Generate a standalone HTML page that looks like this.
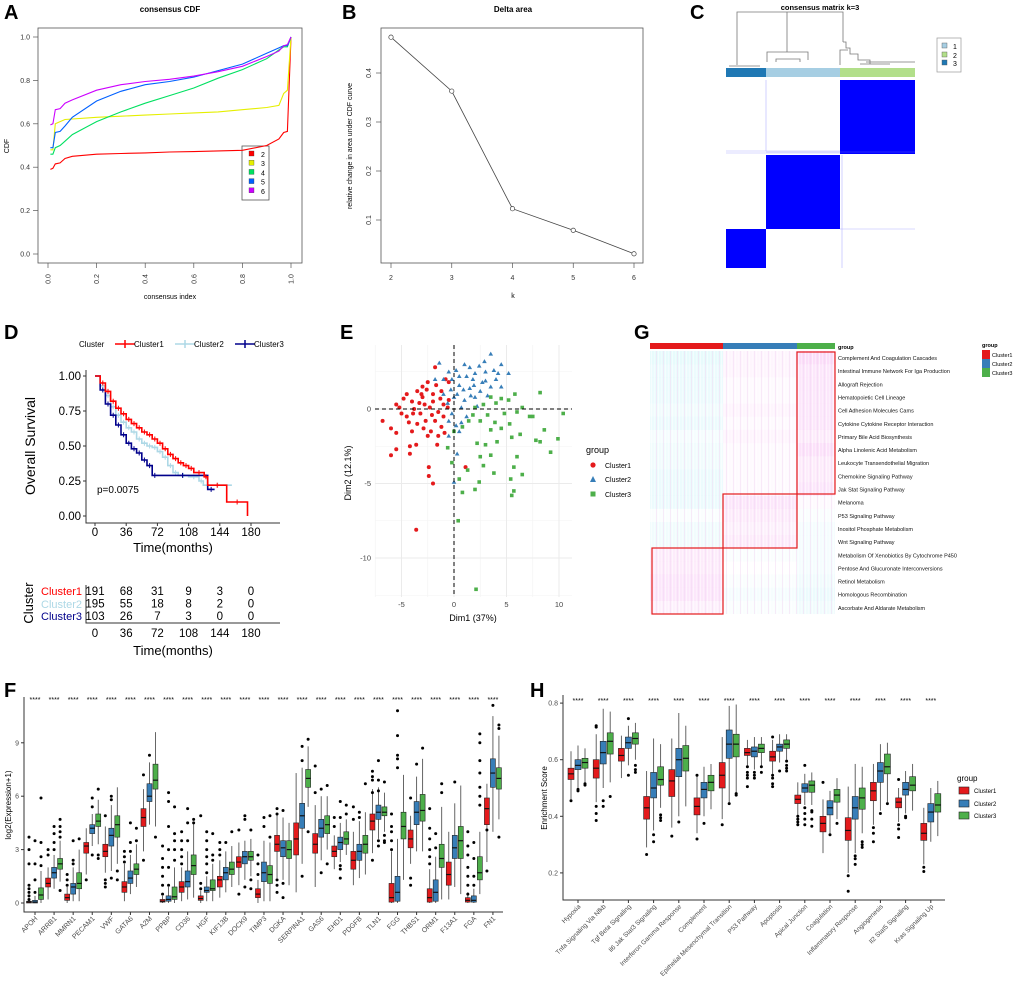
<!DOCTYPE html>
<html><head><meta charset="utf-8">
<style>
html,body{margin:0;padding:0;background:#fff;}
svg{display:block;font-family:"Liberation Sans",Arial,sans-serif;}
</style></head>
<body>
<svg id="fig" width="1020" height="981" viewBox="0 0 1020 981" xmlns="http://www.w3.org/2000/svg">
<defs>
<pattern id="stripes" width="7" height="13" patternUnits="userSpaceOnUse">
<rect x="0" y="0" width="1" height="13" fill="#fff" opacity="0.5"/>
<rect x="3" y="0" width="1" height="13" fill="#fff" opacity="0.35"/>
<rect x="5" y="0" width="1" height="13" fill="#f0d0f0" opacity="0.4"/>
</pattern>
</defs>
<g font-weight="bold" font-size="20" fill="#000">
<text x="4" y="19">A</text>
<text x="342" y="19">B</text>
<text x="690" y="19">C</text>
<text x="4" y="339">D</text>
<text x="340" y="339">E</text>
<text x="634" y="339">G</text>
<text x="4" y="697">F</text>
<text x="530" y="697">H</text>
</g>

<g id="pa">
<text x="170" y="12" font-size="8" font-weight="bold" text-anchor="middle">consensus CDF</text>
<rect x="38" y="28" width="264" height="235" fill="none" stroke="#555" stroke-width="0.8"/>
<text x="0" y="0" font-size="7" transform="translate(9,146) rotate(-90)" text-anchor="middle">CDF</text>
<text x="170" y="299" font-size="7" text-anchor="middle">consensus index</text>
<g>
<rect x="242" y="146" width="27" height="54" fill="#fff" stroke="#555" stroke-width="0.8"/>
</g>
</g>

<g id="pb">
<text x="513" y="12" font-size="8" font-weight="bold" text-anchor="middle">Delta area</text>
<rect x="381" y="28" width="262" height="235" fill="none" stroke="#555" stroke-width="0.8"/>
<text x="0" y="0" font-size="7" transform="translate(352,146) rotate(-90)" text-anchor="middle">relative change in area under CDF curve</text>
<text x="513" y="298" font-size="7" text-anchor="middle">k</text>
</g>

<g id="pc">
<text x="820" y="10" font-size="7.5" font-weight="bold" text-anchor="middle">consensus matrix k=3</text>
<path d="M737 65 V12 H843 V42 M787 12 V52 M767 62 V52 H808 V60 M776 62 V59 H800 V62 M843 42 H846 V48 H850 V54 H858 V60 H870 V64 M840 65 V50 H848 M860 64 H890 M866 62 H915 M729 66 H760" fill="none" stroke="#777" stroke-width="0.8"/>
<rect x="726" y="68" width="40" height="9" fill="#1f78b4"/>
<rect x="766" y="68" width="74" height="9" fill="#a6cee3"/>
<rect x="840" y="68" width="75" height="9" fill="#b2df8a"/>
<rect x="840" y="80" width="75" height="74" fill="#0000ff"/>
<rect x="766" y="155" width="74" height="74" fill="#0000ff"/>
<rect x="726" y="229" width="40" height="39" fill="#0000ff"/>
<path d="M726 151 H840 M726 153 H840 M766 80 V151 M842 155 V268 M840 229 H915 M766 152 H915" stroke="#8080ff" stroke-width="0.6" opacity="0.6" fill="none"/>
<g>
<rect x="937" y="38" width="24" height="34" fill="#fff" stroke="#999" stroke-width="0.7"/>
<rect x="942" y="43" width="5" height="5" fill="#a6cee3" stroke="#555" stroke-width="0.4"/>
<text x="953" y="49" font-size="7">1</text>
<rect x="942" y="52" width="5" height="5" fill="#b2df8a" stroke="#555" stroke-width="0.4"/>
<text x="953" y="58" font-size="7">2</text>
<rect x="942" y="60" width="5" height="5" fill="#1f78b4" stroke="#555" stroke-width="0.4"/>
<text x="953" y="66" font-size="7">3</text>
</g>
</g>

<g id="pd">
<g font-size="8">
<text x="79" y="347">Cluster</text>
<path d="M115 344 H135 M125 340 V348" stroke="#ff0000" stroke-width="1.5"/>
<text x="134" y="347">Cluster1</text>
<path d="M175 344 H195 M185 340 V348" stroke="#add8e6" stroke-width="1.5"/>
<text x="194" y="347">Cluster2</text>
<path d="M235 344 H255 M245 340 V348" stroke="#00008b" stroke-width="1.5"/>
<text x="254" y="347">Cluster3</text>
</g>
<path d="M86 370 V523 H280" fill="none" stroke="#333" stroke-width="1"/>
<text x="0" y="0" font-size="14" transform="translate(35,446) rotate(-90)" text-anchor="middle">Overall Survival</text>
<text x="173" y="552" font-size="13" text-anchor="middle">Time(months)</text>
<text x="97" y="493" font-size="10">p=0.0075</text>
<g>
<text x="0" y="0" font-size="13" transform="translate(33,603) rotate(-90)" text-anchor="middle">Cluster</text>
<text x="82" y="595" font-size="11" fill="#ff0000" text-anchor="end">Cluster1</text>
<text x="82" y="608" font-size="11" fill="#add8e6" text-anchor="end">Cluster2</text>
<text x="82" y="620" font-size="11" fill="#00008b" text-anchor="end">Cluster3</text>
<path d="M86 585 V623 H280" fill="none" stroke="#333" stroke-width="1"/>
<text x="173" y="655" font-size="13" text-anchor="middle">Time(months)</text>
</g>
</g>

<g id="pe">
<text x="0" y="0" font-size="9" transform="translate(351,473) rotate(-90)" text-anchor="middle">Dim2 (12.1%)</text>
<text x="473" y="621" font-size="9" text-anchor="middle">Dim1 (37%)</text>
<g>
<text x="586" y="453" font-size="9">group</text>
<circle cx="593" cy="465" r="2.6" fill="#e41a1c"/>
<text x="605" y="468" font-size="7">Cluster1</text>
<path d="M590 482 L593 476 L596 482 Z" fill="#377eb8"/>
<text x="605" y="482" font-size="7">Cluster2</text>
<rect x="590.5" y="491.5" width="5" height="5" fill="#4daf4a"/>
<text x="605" y="497" font-size="7">Cluster3</text>
</g>
</g>

<g id="pg">
<rect x="650" y="343" width="73" height="6" fill="#e41a1c"/>
<rect x="723" y="343" width="74" height="6" fill="#377eb8"/>
<rect x="797" y="343" width="38" height="6" fill="#4daf4a"/>
<text x="838" y="349" font-size="5.5" font-weight="bold">group</text>
<g>
<text x="982" y="347" font-size="5.5" font-weight="bold">group</text>
<rect x="982" y="350" width="8" height="9" fill="#e41a1c"/>
<text x="992" y="357" font-size="5.5">Cluster1</text>
<rect x="982" y="359" width="8" height="9" fill="#377eb8"/>
<text x="992" y="366" font-size="5.5">Cluster2</text>
<rect x="982" y="368" width="8" height="9" fill="#4daf4a"/>
<text x="992" y="375" font-size="5.5">Cluster3</text>
</g>
</g>

<g id="pf">
<path d="M24 697 V912 H503" fill="none" stroke="#333" stroke-width="1"/>
<text x="0" y="0" font-size="8" transform="translate(11,805) rotate(-90)" text-anchor="middle">log2(Expression+1)</text>
</g>

<g id="ph">
<path d="M563 695 V900 H945" fill="none" stroke="#333" stroke-width="1"/>
<text x="0" y="0" font-size="8" transform="translate(547,798) rotate(-90)" text-anchor="middle">Enrichment Score</text>
<g>
<text x="957" y="781" font-size="8">group</text>
<rect x="959" y="787" width="10" height="7" fill="#e41a1c" stroke="#222" stroke-width="0.6"/>
<text x="974" y="793" font-size="6">Cluster1</text>
<rect x="959" y="800" width="10" height="7" fill="#377eb8" stroke="#222" stroke-width="0.6"/>
<text x="974" y="806" font-size="6">Cluster2</text>
<rect x="959" y="812" width="10" height="7" fill="#4daf4a" stroke="#222" stroke-width="0.6"/>
<text x="974" y="818" font-size="6">Cluster3</text>
</g>
</g>
</svg>

<script>
const cdfX = [0.01,0.02,0.03,0.05,0.07,0.1,0.2,0.3,0.4,0.5,0.6,0.7,0.8,0.9,0.95,0.97,0.985,1.0];
const cdfK2 = [0.39,0.395,0.415,0.42,0.44,0.45,0.46,0.463,0.466,0.47,0.472,0.475,0.478,0.50,0.53,0.56,0.565,1.0];
const cdfK3 = [0.48,0.48,0.6,0.61,0.62,0.622,0.63,0.635,0.64,0.645,0.65,0.655,0.665,0.675,0.685,0.74,0.755,1.0];
const cdfK4 = [0.46,0.46,0.49,0.5,0.52,0.55,0.61,0.655,0.695,0.73,0.765,0.81,0.85,0.9,0.94,0.955,0.955,1.0];
const cdfK5 = [0.49,0.49,0.56,0.565,0.59,0.63,0.705,0.75,0.78,0.795,0.815,0.845,0.875,0.925,0.95,0.96,0.96,1.0];
const cdfK6 = [0.595,0.6,0.665,0.67,0.695,0.71,0.755,0.78,0.795,0.805,0.82,0.84,0.865,0.91,0.935,0.96,0.965,1.0];
const cdfColors = ["#ff0000","#e5ef00","#00e060","#0060ff","#cc00ff"];
const cdfLabels = ["2","3","4","5","6"];
const cdfTicks = [0,0.2,0.4,0.6,0.8,1.0];

const deltaK = [2,3,4,5,6];
const deltaVal = [0.473,0.363,0.123,0.079,0.031];
const deltaYTicks = [0.1,0.2,0.3,0.4];

const kmT1 = [0,6,12,18,24,30,36,42,48,54,60,66,72,78,84,90,96,102,108,114,126,130,152,176];
const kmS1 = [1,0.95,0.89,0.82,0.77,0.73,0.69,0.66,0.63,0.6,0.58,0.55,0.52,0.48,0.44,0.41,0.38,0.36,0.34,0.31,0.28,0.22,0.1,0];
const kmT2 = [0,6,12,18,24,30,36,42,48,54,60,66,72,78,84,90,96,108,120,125,158];
const kmS2 = [1,0.93,0.86,0.78,0.72,0.67,0.63,0.6,0.55,0.52,0.5,0.49,0.46,0.42,0.36,0.31,0.29,0.28,0.25,0.22,0.22];
const kmT3 = [0,6,12,18,24,30,36,42,48,54,60,66,72,130,138];
const kmS3 = [1,0.9,0.8,0.72,0.65,0.58,0.52,0.48,0.45,0.4,0.36,0.29,0.29,0.19,0.19];
const kmXTicks = [0,36,72,108,144,180];
const kmYTicks = [0,0.25,0.5,0.75,1.0];
const riskC1 = [191,68,31,9,3,0];
const riskC2 = [195,55,18,8,2,0];
const riskC3 = [103,26,7,3,0,0];

const pcaC1 = [[-1.8,2.8],[-2.5,1.8],[-3,1.5],[-4.5,1],[-5.5,0.3],[-6.8,-0.8],[-6,-1.3],[-5.5,-1.6],[-5.5,-2.7],[-6,-3.1],[-4.2,-2.5],[-3.6,-2.4],[-4.2,-3],[-2.4,-3.9],[-2.4,-4.5],[-2,-5],[1.1,-3.9],[-3.6,-8.1],[-1.5,-1.8],[-1.6,-2.4],[-2.5,-1.8],[-3.5,-1],[-4.5,-0.5],[-4,0.5],[-3,0.8],[-2,0.5],[-1,0.3],[-0.5,0.6],[-1.2,1.2],[-2,1],[-3.2,-0.3],[-2.7,-0.8],[-1.8,-0.8],[-1,-0.5],[-0.5,1.8],[-5,-0.3],[-3.8,0],[-2.3,0.1],[-1.5,-0.2],[-4.8,0.7],[-3.5,1.2],[-2.8,0.3],[-0.8,2.0],[-1.2,-1.2],[-4,-1.5],[-3.3,0.4],[-2.1,-0.4],[-1.3,0.7],[-4.3,-0.9],[-2.6,1.3],[-3.9,-0.3],[-1.7,1.6],[-0.9,-1.6],[-2.9,-1.3],[-5.2,0.1],[-2.2,-1.5],[-3.1,1.0],[-0.6,0.1]];
const pcaC2 = [[-1.4,3.1],[-1.8,2],[-1,2],[-0.5,2.5],[0.2,2.6],[1,3],[1.5,2.8],[2,2.4],[2.9,3.2],[3.5,3.7],[4.5,3],[5.2,2.4],[3,2.5],[4,2],[4.5,1.5],[3.5,1.5],[2.5,1.2],[1.5,1.4],[0.5,1.6],[-0.3,1.3],[0,0.8],[1,0.6],[2,0.8],[0.7,0.1],[-0.2,-0.3],[-0.5,-0.8],[0.2,-1.1],[0.7,-0.9],[0.5,-1.5],[-0.5,-1.8],[1.2,-0.5],[2.2,0.2],[3.2,0.9],[0.3,-3],[0,-4.9],[-1,1],[1.8,2],[0.5,2.2],[3.8,2.6],[2.7,1.8],[1.2,2.2],[0.3,1.0],[-0.6,0.4],[1.6,0.9],[2.4,2.9],[0.9,1.3],[3.0,1.9],[4.2,2.4],[-0.2,2.0],[1.9,1.6]];
const pcaC3 = [[8.2,1.1],[5.8,1],[5.2,0.6],[4.5,0.7],[4,0.4],[3.5,0.8],[2.8,0.3],[2,0.1],[6.5,0.1],[7.2,-0.5],[7.5,-0.5],[10.4,-0.3],[6,-0.2],[5.3,-1],[4.5,-1.3],[3.5,-1.4],[2.5,-0.8],[1.4,-0.8],[0.8,-1.2],[0,-1.5],[8.6,-1.4],[6.3,-1.7],[5.5,-1.9],[4.1,-2.2],[3,-2.4],[2.2,-2.3],[-0.6,-2.6],[7.8,-2.1],[8.2,-2.2],[9.9,-2],[9.2,-2.9],[6,-3.2],[5.7,-3.9],[3.5,-3.1],[2.5,-3.2],[2.8,-3.8],[-0.2,-3.6],[1.3,-4.1],[3.8,-4.3],[6.5,-4.4],[5.4,-4.7],[2.4,-4.9],[0.5,-4.7],[2,-5.4],[0.8,-5.6],[5.5,-5.8],[5.7,-5.5],[0.4,-7.5],[2.1,-12.1],[3.2,-0.4],[4.8,-0.3],[3.9,-0.9],[1.8,-0.4]];
const pcaXTicks = [-5,0,5,10];
const pcaYTicks = [0,-5,-10];

const gsetNames = ["Complement And Coagulation Cascades","Intestinal Immune Network For Iga Production","Allograft Rejection","Hematopoietic Cell Lineage","Cell Adhesion Molecules Cams","Cytokine Cytokine Receptor Interaction","Primary Bile Acid Biosynthesis","Alpha Linolenic Acid Metabolism","Leukocyte Transendothelial Migration","Chemokine Signaling Pathway","Jak Stat Signaling Pathway","Melanoma","P53 Signaling Pathway","Inositol Phosphate Metabolism","Wnt Signaling Pathway","Metabolism Of Xenobiotics By Cytochrome P450","Pentose And Glucuronate Interconversions","Retinol Metabolism","Homologous Recombination","Ascorbate And Aldarate Metabolism"];
const gsetC1 = [-0.5,-0.4,-0.4,-0.4,-0.3,-0.4,-0.2,-0.3,-0.3,-0.4,-0.4,-0.4,-0.1,-0.3,-0.3,0.4,0.4,0.5,0.5,0.3];
const gsetC2 = [0.2,0.2,0.1,0.1,0.2,0.1,0.2,0.1,0.1,0.1,0.1,0.5,0.4,0.3,0.4,-0.1,0.0,-0.1,-0.2,-0.1];
const gsetC3 = [0.7,0.5,0.5,0.5,0.5,0.5,0.4,0.6,0.4,0.4,0.5,0.1,-0.1,-0.2,-0.2,-0.2,-0.2,-0.3,-0.4,-0.3];

const fGenes = ["APOH","ARRB1","MMRN1","PECAM1","VWF","GATA6","A2M","PPBP","CD36","HGF","KIF13B","DOCK9","TIMP3","DGKA","SERPINA1","GAS6","EHD1","PDGFB","TLN1","FGG","THBS1","ORM1","F13A1","FGA","FN1"];
const fC1 = [[0,0.05,0.1,0,0.3],[0.9,1.1,1.4,0.2,2.0],[0.15,0.3,0.5,0,0.9],[2.8,3.2,3.4,1.6,4.2],[2.6,2.9,3.3,1.7,4.3],[0.6,0.9,1.2,0.1,2.2],[4.3,4.8,5.3,2.9,6.4],[0.05,0.1,0.2,0,0.4],[0.6,0.9,1.2,0.1,2.0],[0.15,0.25,0.4,0,0.7],[0.9,1.3,1.5,0.3,2.4],[2.0,2.3,2.6,1.0,3.4],[0.3,0.5,0.8,0,1.3],[2.9,3.3,3.8,1.4,5.0],[2.7,3.6,4.5,0.6,7.3],[2.8,3.3,3.9,0.9,5.5],[2.6,2.9,3.2,1.9,3.8],[1.9,2.4,2.9,1.0,4.0],[4.1,4.6,5.0,2.8,6.4],[0.05,0.3,1.1,0,2.9],[3.1,3.6,4.1,2.2,4.9],[0.05,0.3,0.8,0,1.9],[1.0,1.6,2.3,0.2,4.0],[0.05,0.15,0.3,0,0.6],[4.4,5.3,5.9,2.3,6.7]];
const fC2 = [[0,0.05,0.15,0,0.4],[1.4,1.7,2.0,0.8,2.7],[0.5,0.9,1.1,0.1,2.0],[3.9,4.2,4.4,3.2,5.0],[3.2,3.8,4.2,1.8,5.5],[1.1,1.4,1.8,0.5,2.7],[5.7,6.0,6.7,4.4,7.9],[0.1,0.2,0.4,0,0.9],[0.9,1.2,1.8,0.2,2.9],[0.6,0.7,0.9,0.1,1.5],[1.3,1.7,2.0,0.6,2.9],[2.2,2.6,2.9,1.3,3.5],[1.2,1.7,2.3,0.1,3.5],[2.6,3.1,3.5,1.3,4.8],[4.2,4.9,5.6,2.2,7.6],[3.7,4.2,4.7,2.4,6.0],[3.0,3.4,3.7,2.3,4.5],[2.4,2.9,3.3,1.4,4.6],[4.7,5.1,5.5,3.6,6.5],[0.1,0.6,1.5,0,3.6],[4.4,5.1,5.7,2.9,7.1],[0.1,0.6,1.3,0,2.6],[2.5,3.1,3.8,0.9,5.6],[0.05,0.15,0.4,0,0.8],[6.5,7.3,8.1,4.0,10.5]];
const fC3 = [[0.2,0.45,0.85,0,1.8],[1.9,2.2,2.5,1.2,3.5],[0.8,1.1,1.7,0.1,3.0],[4.3,4.6,5.0,3.3,5.8],[3.7,4.4,4.9,2.2,6.5],[1.6,1.9,2.2,0.9,3.3],[6.4,6.9,7.8,4.3,9.6],[0.2,0.35,0.9,0,2.0],[1.6,2.1,2.7,0.3,4.5],[0.7,0.8,1.3,0.1,2.2],[1.6,1.9,2.3,0.9,3.2],[2.4,2.6,2.9,1.5,3.6],[1.1,1.6,2.1,0.1,3.4],[2.5,3.0,3.5,1.0,4.5],[6.5,7.0,7.5,5.4,8.8],[3.9,4.4,4.9,3.0,6.0],[3.3,3.6,4.0,2.7,4.7],[2.8,3.3,3.8,1.6,5.1],[4.9,5.1,5.4,4.0,6.2],[3.6,4.3,5.1,1.3,7.2],[4.6,5.2,6.1,2.9,8.1],[2.0,2.5,3.3,0.2,5.4],[2.5,3.5,4.3,0.5,6.6],[1.3,1.7,2.6,0.5,4.0],[6.4,7.0,7.6,4.7,9.4]];
// outliers per gene, per cluster
const fOut1 = [[0.2,0.4,0.6,0.8,1.0,2.2,3.0,3.7],[2.7,3.0],[1.0,1.3,1.6],[1.3],[0.9,1.1,1.3,4.9],[2.3,2.6,2.9],[2.4,7.2],[0.5,1,1.5,2,2.5,3.2],[2.2,2.6,3,3.5,4],[0.8,1.1,4.9],[2.7,3,3.4],[0.5,4.1],[1.6,2.2,2.7],[0.6,1,1.3,5,5.3],[],[6.2,7.7],[4.3,4.8],[4.7,5.4],[2.4,6.2,6.9,7.1,7.4],[3,3.5,4,4.3,5],[1,1.4,5.9],[2.2,2.6,3,3.6,4.2,5.3],[],[0.5,1,1.5,2,2.7,3.2,4],[1.8,4.1]];
const fOut2 = [[0.6,1.3,2.2,3.5],[3.0,3.4,3.9,4.3],[2.2,2.4,3.5],[2.7,5.4,5.9],[1.4,5.8,6.0],[2.9,3.4,4.5],[8.3],[1,2,3,4.3,5.7,6.2],[3.5,4.5,5.3],[1.7,2.2,2.6,3,3.5,4],[3.4],[0.9,4.7,4.9],[4.3,4.8],[0.3,1.1,5.2],[1.5,8,8.8],[1.7,6.4],[1.4,1.9,2.1,4.8,5.7],[4.8,5.1],[3.2,3.5,6.3,6.9,8],[7.6,8.1,8.3,9.4,10.8],[7.8],[3.1,3.9],[6.8],[1,1.5,2.5,3.4],[11.1]];
const fOut3 = [[2.1,2.6,3.4,5.9],[0.7,3.7,4.0,4.3,4.7],[3.6],[2.5,2.7,6.4],[1.3,1.8],[3.5,4.2],[3.7],[2.4,3,3.5,3.9,5.4],[4.5,4.7],[2.4,2.7,3.9],[4.0],[0.8,1.3,4.1],[3.7,4.9],[],[4,9.2],[2.2,6.6],[5,5.5],[6.7],[3.4,3.5,3.8,6.8],[],[8.7],[6.2,6.7],[],[5.5,6,6.5,7.3,8,9,9.5],[3.7,9.8,10]];
const fYTicks = [0,3,6,9];

const hSets = ["Hypoxia","Tnfa Signaling Via Nfkb","Tgf Beta Signaling","Il6 Jak Stat3 Signaling","Interferon Gamma Response","Complement","Epithelial Mesenchymal Transition","P53 Pathway","Apoptosis","Apical Junction","Coagulation","Inflammatory Response","Angiogenesis","Il2 Stat5 Signaling","Kras Signaling Up"];
const hC1 = [[0.53,0.55,0.57,0.46,0.63],[0.535,0.57,0.6,0.45,0.69],[0.595,0.615,0.64,0.535,0.685],[0.39,0.43,0.47,0.29,0.56],[0.47,0.525,0.565,0.36,0.675],[0.405,0.435,0.465,0.34,0.545],[0.5,0.545,0.59,0.39,0.68],[0.615,0.625,0.64,0.58,0.67],[0.595,0.61,0.63,0.55,0.67],[0.445,0.46,0.475,0.4,0.52],[0.345,0.375,0.4,0.27,0.46],[0.315,0.35,0.395,0.2,0.505],[0.455,0.49,0.52,0.37,0.585],[0.43,0.45,0.465,0.38,0.5],[0.315,0.34,0.375,0.23,0.43]];
const hC2 = [[0.565,0.58,0.6,0.5,0.65],[0.585,0.625,0.665,0.5,0.78],[0.64,0.66,0.68,0.58,0.72],[0.465,0.5,0.555,0.35,0.675],[0.54,0.6,0.64,0.4,0.765],[0.465,0.495,0.52,0.4,0.575],[0.605,0.655,0.705,0.45,0.79],[0.61,0.63,0.645,0.565,0.68],[0.63,0.645,0.655,0.59,0.69],[0.485,0.5,0.515,0.44,0.55],[0.405,0.43,0.455,0.34,0.49],[0.39,0.43,0.47,0.27,0.585],[0.52,0.56,0.59,0.42,0.655],[0.475,0.495,0.52,0.41,0.56],[0.38,0.415,0.445,0.31,0.5]];
const hC3 = [[0.57,0.59,0.605,0.52,0.64],[0.62,0.665,0.695,0.52,0.77],[0.655,0.675,0.695,0.6,0.73],[0.51,0.53,0.575,0.43,0.655],[0.56,0.605,0.65,0.435,0.72],[0.49,0.52,0.545,0.425,0.585],[0.61,0.655,0.69,0.48,0.795],[0.625,0.64,0.655,0.575,0.68],[0.64,0.655,0.67,0.6,0.69],[0.485,0.51,0.525,0.44,0.555],[0.45,0.475,0.495,0.39,0.535],[0.425,0.465,0.5,0.34,0.575],[0.55,0.575,0.62,0.45,0.66],[0.49,0.51,0.54,0.42,0.585],[0.415,0.44,0.48,0.33,0.525]];
const hOut1 = [[0.455],[0.385,0.41,0.435,0.715,0.72],[],[0.265],[0.33],[0.32,0.545],[0.37],[0.505,0.535,0.545,0.555,0.575],[0.505,0.515,0.535,0.545,0.68],[0.37,0.38,0.39,0.4],[0.52],[0.135,0.19],[0.31,0.34,0.36],[0.325,0.355,0.37,0.53],[0.205,0.22]];
const hOut2 = [[0.49,0.495],[0.435,0.455],[0.545,0.745],[0.31,0.335],[0.38],[0.375],[0.445],[0.535,0.545,0.555],[0.56],[0.37,0.39,0.41,0.43,0.58],[0.335],[0.23,0.25,0.26],[0.41],[0.395,0.4],[]];
const hOut3 = [[0.51,0.515],[0.47],[0.555,0.565,0.58],[0.385,0.395,0.405],[],[],[0.475,0.48],[0.555,0.575],[0.56,0.57,0.58,0.595],[0.365,0.39,0.415,0.42],[0.375],[0.29,0.3,0.31],[0.445],[],[]];
const hYTicks = [0.2,0.4,0.6,0.8];

const NS = "http://www.w3.org/2000/svg";
function mk(tag, attrs, parent){
  const e = document.createElementNS(NS, tag);
  for (const k in attrs) e.setAttribute(k, attrs[k]);
  (parent || document.getElementById('fig')).appendChild(e);
  return e;
}
function txt(parent, x, y, s, size, extra){
  const t = mk('text', Object.assign({x:x, y:y, 'font-size':size}, extra||{}), parent);
  t.textContent = s;
  return t;
}

(function(){
  const g = document.getElementById('pa');
  const xA = v => 48 + v*243;
  const yA = v => 254 - v*217;
  cdfTicks.forEach(v=>{
    const tk = mk('line',{x1:33,x2:38,y1:yA(v),y2:yA(v),stroke:'#555','stroke-width':0.7},g);
    
    
    const tl = txt(g, 30, yA(v)+2.5, v.toFixed(1), 7, {'text-anchor':'end', fill:'#333'});
    
    
    const xk = mk('line',{x1:xA(v),x2:xA(v),y1:263,y2:268,stroke:'#555','stroke-width':0.7},g);
    
    
    const xl = txt(g, 0, 0, v.toFixed(1), 7, {'text-anchor':'middle', fill:'#333', transform:`translate(${xA(v)+2.5},279) rotate(-90)`});
    
    
  });
  [cdfK2,cdfK3,cdfK4,cdfK5,cdfK6].forEach((ser,i)=>{
    const d = ser.map((v,j)=>(j?'L':'M')+xA(cdfX[j]).toFixed(1)+' '+yA(v).toFixed(1)).join(' ');
    const p = mk('path',{d:d,fill:'none',stroke:cdfColors[i],'stroke-width':1.1},g);
    
    
    const key = mk('rect',{x:249,y:151+i*9.2,width:5,height:5,fill:cdfColors[i],stroke:'#333','stroke-width':0.3},g);
    
    
    const lb = txt(g, 261, 157+i*9.2, cdfLabels[i], 7);
    
    
  });
})();

(function(){
  const g = document.getElementById('pb');
  const xB = k => 391 + (k-2)*60.75;
  const yB = v => 269 - v*490;
  deltaYTicks.forEach(v=>{
    const tk = mk('line',{x1:376,x2:381,y1:yB(v),y2:yB(v),stroke:'#555','stroke-width':0.7},g);
    
    
    const tl = txt(g,0,0,String(v),7,{'text-anchor':'middle',fill:'#333',transform:`translate(371,${yB(v)}) rotate(-90)`});
    
    
  });
  deltaK.forEach(k=>{
    const tk = mk('line',{x1:xB(k),x2:xB(k),y1:263,y2:268,stroke:'#555','stroke-width':0.7},g);
    
    
    const tl = txt(g,xB(k),280,String(k),7,{'text-anchor':'middle',fill:'#333'});
    
    
  });
  const d = deltaVal.map((v,i)=>(i?'L':'M')+xB(deltaK[i])+' '+yB(v)).join(' ');
  const ln = mk('path',{d:d,fill:'none',stroke:'#444','stroke-width':0.8},g);
  
  
  deltaVal.forEach((v,i)=>{
    const c = mk('circle',{cx:xB(deltaK[i]),cy:yB(v),r:2.2,fill:'#fff',stroke:'#444','stroke-width':0.7},g);
    
    
  });
})();

(function(){
  const g = document.getElementById('pd');
  const xD = t => 95 + t*0.8667;
  const yD = s => 516 - s*140;
  kmYTicks.forEach(v=>{
    const tk = mk('line',{x1:83,x2:86,y1:yD(v),y2:yD(v),stroke:'#333'},g);
    
    
    const tl = txt(g,81,yD(v)+4,v.toFixed(2),11.5,{'text-anchor':'end'});
    
    
  });
  kmXTicks.forEach((t,i)=>{
    const tk = mk('line',{x1:xD(t),x2:xD(t),y1:523,y2:526,stroke:'#333'},g);
    
    
    const tl = txt(g,xD(t),536,String(t),11.5,{'text-anchor':'middle'});
    
    
    const tl2 = txt(g,xD(t),637,String(t),11.5,{'text-anchor':'middle'});
    
    
    [riskC1,riskC2,riskC3].forEach((row,r)=>{
      const n = txt(g,xD(t),595+r*12.5,String(row[i]),11.5,{'text-anchor':'middle'});
      
      
    });
  });
  const curves = [[kmT2,kmS2,'#add8e6'],[kmT3,kmS3,'#00008b'],[kmT1,kmS1,'#ff0000']];
  curves.forEach((c)=>{
    const [T,S,col] = c;
    let d = 'M'+xD(T[0])+' '+yD(S[0]);
    for(let i=1;i<T.length;i++){ d += ' H'+xD(T[i]).toFixed(1)+' V'+yD(S[i]).toFixed(1); }
    const p = mk('path',{d:d,fill:'none',stroke:col,'stroke-width':1.6},g);
    
    
    for(let i=1;i<T.length-1;i++){
      const cx = xD((T[i]+T[i+1])/2), cy = yD(S[i]);
      const m = mk('path',{d:`M${cx-2.5} ${cy} H${cx+2.5} M${cx} ${cy-2.5} V${cy+2.5}`,stroke:col,'stroke-width':1},g);
      
      
    }
  });
})();

(function(){
  const g = document.getElementById('pe');
  const xE = v => 454 + v*10.5;
  const yE = v => 409 - v*14.9;
  [-7.5,-2.5,2.5,7.5].forEach(v=>{
    const l = mk('line',{x1:xE(v),x2:xE(v),y1:345,y2:597,stroke:'#f3f3f3','stroke-width':0.6},g);
    
    
  });
  [2.5,-2.5,-7.5,-12.5].forEach(v=>{
    const l = mk('line',{x1:375,x2:572,y1:yE(v),y2:yE(v),stroke:'#f3f3f3','stroke-width':0.6},g);
    
    
  });
  pcaXTicks.forEach(v=>{
    const l = mk('line',{x1:xE(v),x2:xE(v),y1:345,y2:597,stroke:'#ebebeb','stroke-width':1},g);
    
    
    const tl = txt(g,xE(v),607,String(v),7.5,{'text-anchor':'middle',fill:'#444'});
    
    
  });
  pcaYTicks.forEach(v=>{
    const l = mk('line',{x1:375,x2:572,y1:yE(v),y2:yE(v),stroke:'#ebebeb','stroke-width':1},g);
    
    
    const tl = txt(g,371,yE(v)+2.5,String(v),7.5,{'text-anchor':'end',fill:'#444'});
    
    
  });
  pcaC1.forEach(p=>{
    const c = mk('circle',{cx:xE(p[0]),cy:yE(p[1]),r:2,fill:'#e41a1c'},g);
    
    
  });
  pcaC2.forEach(p=>{
    const x=xE(p[0]), y=yE(p[1]);
    const c = mk('path',{d:`M${x-2.3} ${y+1.8} L${x} ${y-2.2} L${x+2.3} ${y+1.8} Z`,fill:'#377eb8'},g);
    
    
  });
  pcaC3.forEach(p=>{
    const c = mk('rect',{x:xE(p[0])-1.8,y:yE(p[1])-1.8,width:3.6,height:3.6,fill:'#4daf4a'},g);
    
    
  });
  const h = mk('line',{x1:375,x2:572,y1:yE(0),y2:yE(0),stroke:'#000','stroke-width':1,'stroke-dasharray':'4,3'},g);
  
  
  const v = mk('line',{x1:xE(0),x2:xE(0),y1:345,y2:597,stroke:'#000','stroke-width':1,'stroke-dasharray':'4,3'},g);
  
  
})();

(function(){
  const g = document.getElementById('pg');
  const rowY = i => 351 + i*13.15;
  const cols = [[650,73,gsetC1],[723,74,gsetC2],[797,38,gsetC3]];
  gsetNames.forEach((name,i)=>{
    cols.forEach((c)=>{
      const v = c[2][i];
      const col = v>=0 ? `rgba(240,120,230,${(v*0.35).toFixed(3)})` : `rgba(120,230,240,${(-v*0.35).toFixed(3)})`;
      const r = mk('rect',{x:c[0],y:rowY(i),width:c[1],height:13.2,fill:col},g);
      
      
    });
    const t = txt(g,838,rowY(i)+9,name,5.5,{fill:'#111'});
    
    
  });
  const ov = mk('rect',{x:650,y:351,width:185,height:263,fill:'url(#stripes)'},g);
  
  
  const boxes = [[797,352,38,142],[723,494,74,54],[652,548,71,66]];
  boxes.forEach(b=>{
    const r = mk('rect',{x:b[0],y:b[1],width:b[2],height:b[3],fill:'none',stroke:'#e41a1c','stroke-width':1.2},g);
    
    
  });
})();

const clusterColors = ['#e41a1c','#377eb8','#4daf4a'];
function drawBox(g, cx, w, s, col, yf, name, outs){
  const wh = mk('line',{x1:cx,x2:cx,y1:yf(s[3]),y2:yf(s[4]),stroke:'#555','stroke-width':0.9},g);
  
  
  const top = yf(s[2]), bot = yf(s[0]);
  const bx = mk('rect',{x:cx-w/2,y:top,width:w,height:Math.max(0.8,bot-top),fill:col,stroke:'#222','stroke-width':0.6},g);
  
  
  const md = mk('line',{x1:cx-w/2,x2:cx+w/2,y1:yf(s[1]),y2:yf(s[1]),stroke:'#111','stroke-width':1.2},g);
  
  
  (outs||[]).forEach(o=>{
    const c = mk('circle',{cx:cx,cy:yf(o),r:1.5,fill:'#000'},g);
    
    
  });
}

(function(){
  const g = document.getElementById('pf');
  const yF = v => 903 - v*17.8;
  const xF = i => 35 + i*19.08;
  fYTicks.forEach(v=>{
    const tk = mk('line',{x1:21,x2:24,y1:yF(v),y2:yF(v),stroke:'#333'},g);
    
    
    const tl = txt(g,19,yF(v)+2.5,String(v),7,{'text-anchor':'end',fill:'#4d4d4d'});
    
    
  });
  const outs = [fOut1,fOut2,fOut3];
  fGenes.forEach((name,i)=>{
    const cx = xF(i);
    [fC1,fC2,fC3].forEach((arr,ci)=>{
      drawBox(g, cx+(ci-1)*6, 5, arr[i], clusterColors[ci], yF, 'panel-f-'+name.toLowerCase()+'-cluster'+(ci+1), outs[ci][i]);
    });
    const st = txt(g,cx,702,'****',7,{'text-anchor':'middle'});
    
    
    const tk = mk('line',{x1:cx,x2:cx,y1:912,y2:915,stroke:'#333'},g);
    
    
    const tl = txt(g,0,0,name,7,{'text-anchor':'end',fill:'#4d4d4d',transform:`translate(${cx+3},919) rotate(-45)`});
    
    
  });
})();

(function(){
  const g = document.getElementById('ph');
  const yH = v => 929.5 - v*283;
  const xH = i => 578 + i*25.2;
  hYTicks.forEach(v=>{
    const tk = mk('line',{x1:560,x2:563,y1:yH(v),y2:yH(v),stroke:'#333'},g);
    
    
    const tl = txt(g,558,yH(v)+2.5,v.toFixed(1),7,{'text-anchor':'end',fill:'#4d4d4d'});
    
    
  });
  const outs = [hOut1,hOut2,hOut3];
  hSets.forEach((name,i)=>{
    const cx = xH(i);
    [hC1,hC2,hC3].forEach((arr,ci)=>{
      drawBox(g, cx+(ci-1)*7, 6, arr[i], clusterColors[ci], yH, 'panel-h-set'+(i+1)+'-cluster'+(ci+1), outs[ci][i]);
    });
    const st = txt(g,cx,703,'****',7,{'text-anchor':'middle'});
    
    
    const tk = mk('line',{x1:cx,x2:cx,y1:900,y2:903,stroke:'#333'},g);
    
    
    const tl = txt(g,0,0,name,6.5,{'text-anchor':'end',fill:'#4d4d4d',transform:`translate(${cx+3},907) rotate(-45)`});
    
    
  });
})();
</script>
</body></html>
